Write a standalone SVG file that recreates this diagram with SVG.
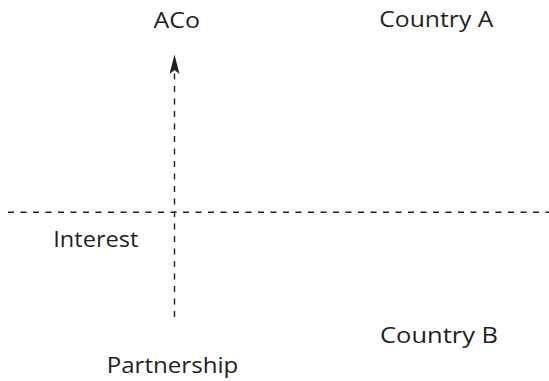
<svg xmlns="http://www.w3.org/2000/svg" width="549" height="381" viewBox="0 0 549 381">
<style>
.lbl{font-family:"Open Sans","Liberation Sans",sans-serif;font-size:21.5px;fill:#231f20}
.dash{stroke:#231f20;stroke-width:1.4;stroke-dasharray:6 6.5;fill:none}
</style>
<rect width="549" height="381" fill="#ffffff"/>
<g id="connectors">
<line class="dash" x1="8" y1="212.3" x2="549" y2="212.3"/>
<line class="dash" x1="174.5" y1="317" x2="174.5" y2="72"/>
<path d="M174.5,54.5 L179.5,74 L174.5,70 L169.5,74 Z" fill="#231f20"/>
</g>
<g id="node-aco"><text class="lbl" x="153.5" y="28.3" textLength="46.5" lengthAdjust="spacingAndGlyphs">ACo</text></g>
<g id="node-country-a"><text class="lbl" x="379.3" y="27.3" textLength="114" lengthAdjust="spacingAndGlyphs">Country A</text></g>
<g id="node-interest"><text class="lbl" x="53.3" y="246.7" textLength="85" lengthAdjust="spacingAndGlyphs">Interest</text></g>
<g id="node-country-b"><text class="lbl" x="380" y="343.3" textLength="118" lengthAdjust="spacingAndGlyphs">Country B</text></g>
<g id="node-partnership"><text class="lbl" x="106.7" y="373.3" textLength="131.6" lengthAdjust="spacingAndGlyphs">Partnership</text></g>
</svg>
